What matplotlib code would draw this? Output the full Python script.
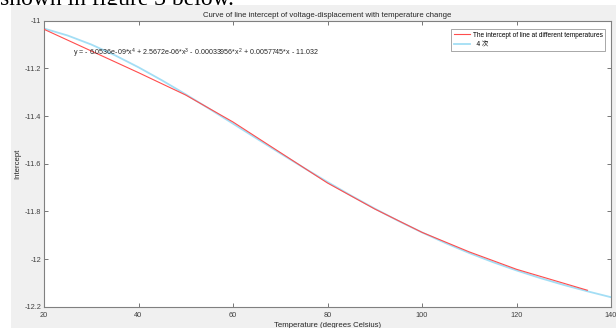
import matplotlib
matplotlib.use("Agg")
import matplotlib.pyplot as plt
from matplotlib.patches import Rectangle

# ---- data ----
temp_measured = [20, 30, 40, 50, 60, 70, 80, 90, 100, 110, 120, 135]
intercept_measured = [-11.036, -11.127, -11.218, -11.312, -11.425, -11.553,
                      -11.681, -11.790, -11.888, -11.970, -12.043, -12.131]

temp_fit = [20, 25, 30, 35, 40, 45, 50, 55, 60, 65, 70, 75, 80, 85, 90, 95,
            100, 105, 110, 115, 120, 125, 130, 135, 140]
intercept_fit = [-11.0328, -11.0621, -11.0999, -11.1449, -11.1955, -11.2506,
                 -11.3091, -11.3698, -11.4319, -11.4943, -11.5564, -11.6174,
                 -11.6768, -11.7339, -11.7884, -11.8400, -11.8883, -11.9333,
                 -11.9748, -12.0130, -12.0479, -12.0797, -12.1087, -12.1353,
                 -12.1602]

x_ticks = [20, 40, 60, 80, 100, 120, 140]
y_ticks = [-11.0, -11.2, -11.4, -11.6, -11.8, -12.0, -12.2]
y_tick_labels = ["-11", "-11.2", "-11.4", "-11.6", "-11.8", "-12", "-12.2"]

title = "Curve of line intercept of voltage-displacement with temperature change"
equation = (r"y = - 6.0536e-09*x$^{4}$ + 2.5672e-06*x$^{3}$ - 0.00033956*x$^{2}$"
            r" + 0.0057745*x - 11.032")
legend_labels = ["The intercept of line at different temperatures", "  4 次"]

plt.rcParams['font.family'] = ['Liberation Sans', 'Noto Sans CJK SC', 'DejaVu Sans']
plt.rcParams['mathtext.fontset'] = 'custom'
plt.rcParams['mathtext.rm'] = 'Liberation Sans'
plt.rcParams['mathtext.it'] = 'Liberation Sans'
plt.rcParams['mathtext.bf'] = 'Liberation Sans'

W, H = 616, 328
fig = plt.figure(figsize=(W / 100, H / 100), dpi=100)
fig.patch.set_facecolor('white')
fig.text(0.0, 1 - 4.5 / H, "shown in figure 3 below.", family='Liberation Serif',
         fontsize=17, va='baseline', ha='left', color='black', zorder=-1)
fig.add_artist(Rectangle((11 / W, 0), 1 - 11 / W, (H - 5) / H,
                         transform=fig.transFigure, facecolor='#f0f0f0',
                         edgecolor='none', zorder=0))

left, right, top, bottom = 44, 611, 20.7, 306.7
ax = fig.add_axes([left / W, (H - bottom) / H, (right - left) / W, (bottom - top) / H])
ax.set_zorder(1)
ax.set_facecolor('white')

ax.plot(temp_measured, intercept_measured, color='#ff4d4d', lw=0.8,
        label=legend_labels[0], zorder=3)
ax.plot(temp_fit, intercept_fit, color='#a3def5', lw=1.3,
        label=legend_labels[1], zorder=2)

ax.set_xlim(20, 140)
ax.set_ylim(-12.2, -11.0)
ax.set_xticks(x_ticks)
ax.set_yticks(y_ticks)
ax.set_yticklabels(y_tick_labels)
for s in ax.spines.values():
    s.set_color('#808080')
    s.set_linewidth(0.8)
ax.tick_params(direction='in', length=3, width=0.6, color='#606060',
               labelsize=5.3, labelcolor='#404040', top=True, right=True)
ax.tick_params(axis='y', pad=2)
ax.tick_params(axis='x', pad=3.5)

ax.set_title(title, fontsize=5.6, color='#262626', pad=3)
ax.set_xlabel("Temperature (degrees Celsius)", fontsize=5.6, color='#262626', labelpad=2.5)
ax.set_ylabel("Intercept", fontsize=5.6, color='#262626', labelpad=2)

ax.text(0.051, 0.887, equation, transform=ax.transAxes, fontsize=5.1,
        color='#262626', va='center', ha='left')

leg = ax.legend(loc='upper right', bbox_to_anchor=((605 - left) / (right - left), 1 - (29 - top) / (bottom - top)),
                borderaxespad=0, fontsize=4.7, frameon=True, fancybox=False,
                handlelength=2.5, handletextpad=0.35, labelspacing=0.4,
                borderpad=0.4)
leg.get_frame().set_edgecolor('#808080')
leg.get_frame().set_linewidth(0.6)

fig.savefig("out.png", dpi=100)
